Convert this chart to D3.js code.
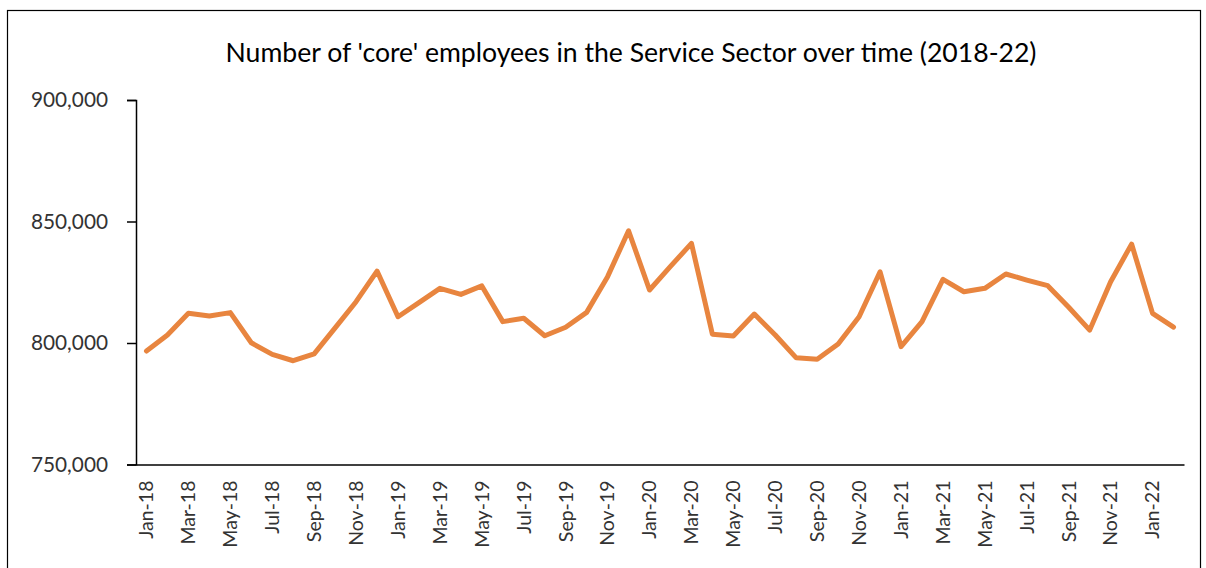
<!DOCTYPE html>
<html>
<head>
<meta charset="utf-8">
<script src="https://cdn.jsdelivr.net/npm/d3@7"></script>
<style>
  html, body { margin: 0; padding: 0; background: #fff; }
  svg { display: block; }
</style>
</head>
<body>
<svg id="chart" width="1206" height="568"></svg>
<script>
// Monthly count of 'core' employees, Jan 2018 – Feb 2022
const months = [
  "Jan-18","Feb-18","Mar-18","Apr-18","May-18","Jun-18","Jul-18","Aug-18","Sep-18","Oct-18","Nov-18","Dec-18",
  "Jan-19","Feb-19","Mar-19","Apr-19","May-19","Jun-19","Jul-19","Aug-19","Sep-19","Oct-19","Nov-19","Dec-19",
  "Jan-20","Feb-20","Mar-20","Apr-20","May-20","Jun-20","Jul-20","Aug-20","Sep-20","Oct-20","Nov-20","Dec-20",
  "Jan-21","Feb-21","Mar-21","Apr-21","May-21","Jun-21","Jul-21","Aug-21","Sep-21","Oct-21","Nov-21","Dec-21",
  "Jan-22","Feb-22"
];
const employees = [
  796700, 803300, 812200, 811100, 812500, 800100, 795300, 792700, 795500, 806200, 817000, 829600,
  810800, 816600, 822500, 820000, 823500, 808800, 810200, 803000, 806500, 812600, 827300, 846200,
  821800, 831500, 841000, 803600, 802900, 811900, 803300, 793900, 793300, 799600, 810800, 829300,
  798500, 808800, 826200, 821100, 822500, 828400, 825900, 823600, 814700, 805300, 825200, 840700,
  812200, 806500
];
const yTicks = [750000, 800000, 850000, 900000];
const titleText = "Number of 'core' employees in the Service Sector over time (2018-22)";

const svg = d3.select("#chart");
const font = "Lato, 'Open Sans', sans-serif";

// outer frame
svg.append("rect")
  .attr("x", 7.5).attr("y", 10.5)
  .attr("width", 1193).attr("height", 570)
  .attr("fill", "none").attr("stroke", "#000").attr("stroke-width", 1.2);

const plot = { left: 136, right: 1184, top: 100, bottom: 464.5 };

const x = d3.scaleBand()
  .domain(months)
  .range([plot.left, plot.right])
  .paddingInner(0).paddingOuter(0);

const y = d3.scaleLinear()
  .domain([750000, 900000])
  .range([plot.bottom, plot.top]);

// title
svg.append("text")
  .attr("x", 631).attr("y", 62)
  .attr("text-anchor", "middle")
  .attr("font-family", font)
  .attr("font-size", 26.6)
  .attr("fill", "#000")
  .text(titleText);

// y axis
const yAxis = svg.append("g")
  .attr("transform", `translate(${plot.left},0)`)
  .call(d3.axisLeft(y).tickValues(yTicks).tickSize(9).tickPadding(19)
    .tickFormat(d3.format(",")));
yAxis.select(".domain").attr("stroke", "#000").attr("stroke-width", 1.5);
yAxis.selectAll(".tick line").attr("stroke", "#000").attr("stroke-width", 1.5);
yAxis.selectAll(".tick text")
  .attr("font-family", font).attr("font-size", 20.8).attr("fill", "#333");

// x axis
const xAxis = svg.append("g")
  .attr("transform", `translate(0,${plot.bottom})`)
  .call(d3.axisBottom(x)
    .tickValues(months.filter((d, i) => i % 2 === 0))
    .tickSize(0).tickPadding(0));
xAxis.select(".domain").attr("stroke", "#000").attr("stroke-width", 1.5);
xAxis.selectAll(".tick text")
  .attr("font-family", font).attr("font-size", 19.5).attr("fill", "#333")
  .attr("text-anchor", "end")
  .attr("dy", "0.35em")
  .attr("transform", "translate(0,16) rotate(-90)")
  .attr("x", 0).attr("y", 0);

// series line
const line = d3.line()
  .x((d, i) => x(months[i]) + x.bandwidth() / 2)
  .y(d => y(d));

svg.append("path")
  .datum(employees)
  .attr("d", line)
  .attr("fill", "none")
  .attr("stroke", "#E8853F")
  .attr("stroke-width", 5)
  .attr("stroke-linejoin", "round")
  .attr("stroke-linecap", "round");
</script>
</body>
</html>
